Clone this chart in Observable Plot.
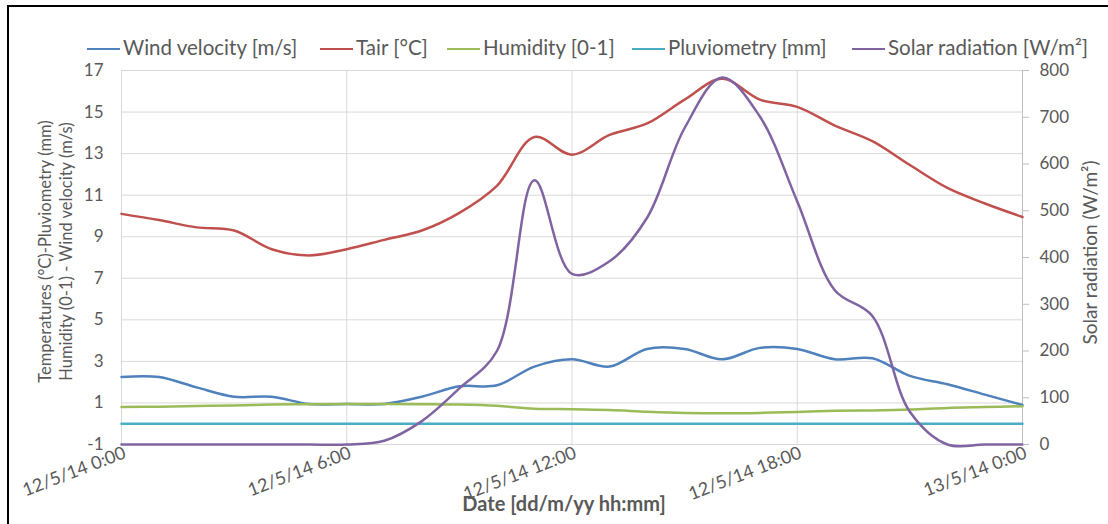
<!DOCTYPE html>
<html><head><meta charset="utf-8">
<script src="https://cdn.jsdelivr.net/npm/d3@7"></script>
<script src="https://cdn.jsdelivr.net/npm/@observablehq/plot@0.6"></script>
<style>
body{margin:0;background:#fff;font-family:Lato,"Open Sans",sans-serif;}
#wrap{position:relative;width:1108px;height:524px;overflow:hidden;}
#frame{position:absolute;left:7px;top:5px;width:1300px;height:700px;border:2px solid #000;pointer-events:none;}
#legend{position:relative;height:60px;}
.item{position:absolute;top:35px;height:24px;line-height:24px;font-size:20.5px;color:#595959;white-space:nowrap;}
.sw{display:inline-block;width:33px;height:2.5px;vertical-align:middle;margin-right:3px;position:relative;top:-1px;}
</style></head>
<body><div id="wrap"><div id="legend"></div><div id="chart"></div><div id="frame"></div></div>
<script>
// sampling hours on 12/5/14 (hour 24 = 13/5/14 0:00)
const hours = [0,1,2,3,4,5,6,7,8,9,10,11,12,13,14,15,16,17,18,19,20,21,22,23,24];
const windVelocity = [2.25,2.25,1.75,1.3,1.3,0.95,0.95,0.95,1.3,1.8,1.85,2.75,3.1,2.75,3.6,3.6,3.1,3.65,3.6,3.1,3.15,2.3,1.9,1.4,0.9];
const tair = [10.1,9.8,9.45,9.3,8.4,8.1,8.4,8.85,9.3,10.15,11.45,13.8,12.95,13.9,14.45,15.6,16.6,15.6,15.25,14.35,13.6,12.45,11.35,10.6,9.95];
const humidity = [0.8,0.82,0.85,0.88,0.92,0.94,0.95,0.95,0.94,0.92,0.86,0.72,0.7,0.66,0.58,0.52,0.5,0.52,0.57,0.62,0.64,0.68,0.76,0.8,0.84];
const pluviometry = [0,0,0,0,0,0,0,0,0,0,0,0,0,0,0,0,0,0,0,0,0,0,0,0,0];
const solarRadiation = [0,0,0,0,0,0,0,8,50,120,200,565,365,392,485,677,785,702,520,330,275,70,0,0,0];

const seriesNames = ["Wind velocity [m/s]","Tair [°C]","Humidity [0-1]","Pluviometry [mm]","Solar radiation [W/m²]"];
const seriesColors = ["#4F81BD","#C0504D","#9BBB59","#4BACC6","#8064A2"];
const leftTicks = [-1,1,3,5,7,9,11,13,15,17];
const rightTicks = [0,100,200,300,400,500,600,700,800];
const xTickHours = [0,6,12,18,24];
const legendX = [87,320,447,632,852];

const leftDomain = [-1,17];
const rightDomain = [0,800];
const toLeft = s => leftDomain[0] + (s - rightDomain[0]) * (leftDomain[1]-leftDomain[0]) / (rightDomain[1]-rightDomain[0]);
const toRight = v => rightDomain[0] + (v - leftDomain[0]) * (rightDomain[1]-rightDomain[0]) / (leftDomain[1]-leftDomain[0]);

const t0 = Date.UTC(2014,4,12);
const toDate = h => new Date(t0 + h*3600e3);
const fmt = d => `${d.getUTCDate()}/${d.getUTCMonth()+1}/${String(d.getUTCFullYear()).slice(2)} ${d.getUTCHours()}:${String(d.getUTCMinutes()).padStart(2,"0")}`;

const values = [windVelocity, tair, humidity, pluviometry, solarRadiation.map(toLeft)];
const data = values.flatMap((arr,k) => arr.map((v,i) => ({series: seriesNames[k], date: toDate(hours[i]), value: v})));

// legend
const leg = document.getElementById("legend");
seriesNames.forEach((n,k) => {
  const d = document.createElement("div");
  d.className = "item"; d.style.left = legendX[k] + "px";
  const s = document.createElement("span"); s.className = "sw"; s.style.background = seriesColors[k];
  d.appendChild(s); d.appendChild(document.createTextNode(n));
  leg.appendChild(d);
});

const xTicks = xTickHours.map(toDate);
const plot = Plot.plot({
  width: 1108, height: 464,
  marginTop: 10, marginBottom: 80, marginLeft: 121, marginRight: 86,
  style: {fontFamily: "Lato, 'Open Sans', sans-serif", background: "transparent", color: "#595959"},
  x: {type: "utc", domain: [toDate(0), toDate(24)], axis: null},
  y: {domain: leftDomain, axis: null},
  color: {domain: seriesNames, range: seriesColors},
  marks: [
    Plot.gridY(leftTicks, {stroke: "#d9d9d9", strokeOpacity: 1}),
    Plot.gridX(xTicks, {stroke: "#d9d9d9", strokeOpacity: 1}),
    Plot.ruleX([toDate(24)], {stroke: "#bfbfbf"}),
    Plot.lineY(data, {x: "date", y: "value", z: "series", stroke: d => d.series, strokeWidth: 2.5, curve: "catmull-rom"}),
    Plot.axisY(leftTicks, {anchor: "left", tickSize: 0, tickPadding: 18, fontSize: 17, fill: "#595959", label: null, tickFormat: d => String(d)}),
    Plot.axisY(rightTicks.map(toLeft), {anchor: "right", tickSize: 6, tickPadding: 11, fontSize: 17, fill: "#595959", stroke: "#bfbfbf", tickFormat: v => String(Math.round(toRight(v))), label: null, textAnchor: "start"}),
    Plot.text(xTicks, {x: d => d, frameAnchor: "bottom", text: fmt, rotate: -21, textAnchor: "end", lineAnchor: "top", dx: 1, dy: 1, fontSize: 18, fill: "#595959"}),
    Plot.text(["Temperatures (°C)-Pluviometry (mm)\nHumidity (0-1) - Wind velocity (m/s)"], {frameAnchor: "left", textAnchor: "middle", lineAnchor: "middle", rotate: -90, dx: -67, dy: -6, fontSize: 16.5, fill: "#595959", lineHeight: 1.33}),
    Plot.text(["Solar radiation (W/m²)"], {frameAnchor: "right", textAnchor: "middle", lineAnchor: "middle", rotate: -90, dx: 68, dy: -5, fontSize: 19, fill: "#595959"}),
    Plot.text(["Date [dd/m/yy hh:mm]"], {frameAnchor: "bottom", lineAnchor: "middle", dx: -8, dy: 60, fontSize: 20, fontWeight: "bold", fill: "#595959"})
  ]
});
document.getElementById("chart").appendChild(plot);
</script></body></html>
